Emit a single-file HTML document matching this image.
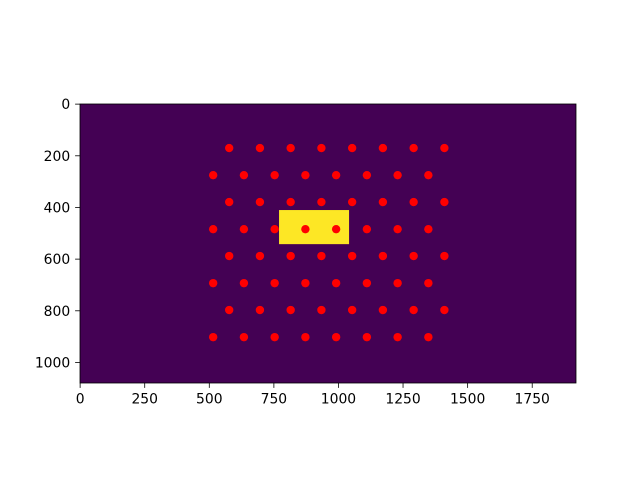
<!DOCTYPE html>
<html><head><meta charset="utf-8"><style>
body{margin:0;background:#fff;}
svg{display:block;font-family:"DejaVu Sans","Liberation Sans",sans-serif;}
</style></head><body>
<svg id="chart" width="640" height="480">
<g id="plot"></g>
<g id="axes"></g>
</svg>
<script>
// Image data (pixel units)
const imgWidth = 1920;
const imgHeight = 1080;
const rowYs = [170, 275, 379, 484, 588, 693, 797, 902];
const colXsOdd = [577, 696, 815, 934, 1053, 1172, 1291, 1410];
const colXsEven = [515, 634, 753, 872, 991, 1110, 1229, 1348];
const rectBox = [770, 410, 1041, 542]; // x0,y0,x1,y1
const xTicks = [0, 250, 500, 750, 1000, 1250, 1500, 1750];
const yTicks = [0, 200, 400, 600, 800, 1000];

const NS = "http://www.w3.org/2000/svg";
const L = 80, T = 104, S = 496 / imgWidth;
const sx = v => L + (v + 0.5) * S;
const sy = v => T + (v + 0.5) * S;
const W = imgWidth * S, H = imgHeight * S;
function mk(tag, attrs, parent) {
  const e = document.createElementNS(NS, tag);
  for (const k in attrs) e.setAttribute(k, attrs[k]);
  parent.appendChild(e);
  return e;
}
const plot = document.getElementById('plot');
const axes = document.getElementById('axes');

let bg = mk('rect', {x: L, y: T, width: W, height: H, fill: '#440154'}, plot);



let yr = mk('rect', {x: sx(rectBox[0]), y: sy(rectBox[1]), width: (rectBox[2]-rectBox[0])*S, height: (rectBox[3]-rectBox[1])*S, fill: '#fde725'}, plot);



rowYs.forEach((y, i) => {
  const xs = i % 2 === 0 ? colXsOdd : colXsEven;
  xs.forEach(x => {
    const c = mk('circle', {cx: sx(x), cy: sy(y), r: 4.2, fill: '#ff0000'}, plot);
    
    
  });
});

let fr = mk('rect', {x: L, y: T, width: W, height: H, fill: 'none', stroke: '#000', 'stroke-width': 0.8}, axes);



xTicks.forEach(t => {
  const x = sx(t);
  mk('line', {x1: x, x2: x, y1: T+H, y2: T+H+4.9, stroke: '#000', 'stroke-width': 0.8}, axes);
  const tx = mk('text', {x: x, y: T+H+20.5, 'text-anchor': 'middle', 'font-size': 13.9}, axes);
  tx.textContent = t;
  
  
});
yTicks.forEach(t => {
  const y = sy(t);
  mk('line', {x1: L, x2: L-4.9, y1: y, y2: y, stroke: '#000', 'stroke-width': 0.8}, axes);
  const tx = mk('text', {x: L-9.8, y: y+5, 'text-anchor': 'end', 'font-size': 13.9}, axes);
  tx.textContent = t;
  
  
});
</script>
</body></html>
